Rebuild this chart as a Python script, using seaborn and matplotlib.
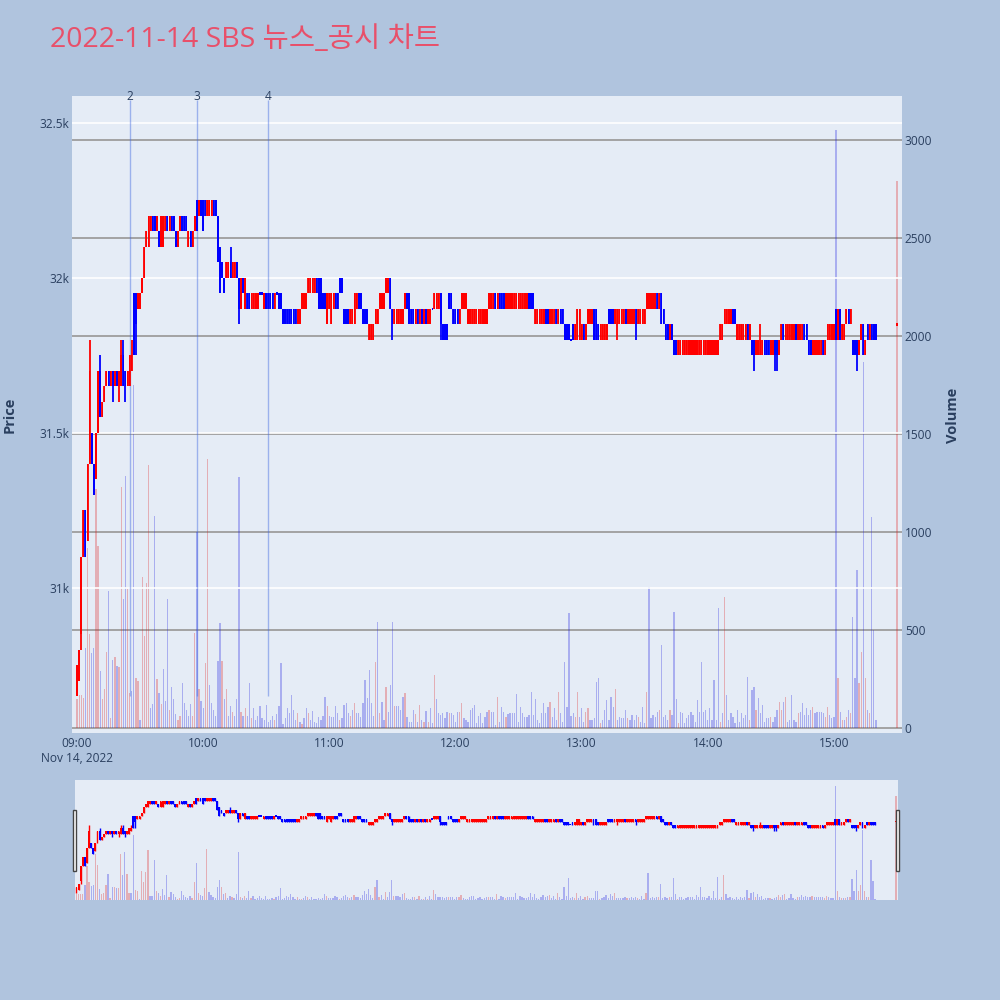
import numpy as np
import pandas as pd
import matplotlib
matplotlib.use("Agg")
import matplotlib.pyplot as plt
from matplotlib.patches import Rectangle
import seaborn as sns

# 2022-11-14 SBS 1분봉 (가격은 31,000원 기준 50원 호가 단위)
BASE = 31000
TICK = 50

# 09:00 ~ 15:20 (381개) + 15:30 종가 단일가
minutes = list(range(381)) + [390]

open_t = [
    -7, -6, -3, 2, 5, 3, 8, 10, 8, 7, 10, 14, 11, 12, 13, 14, 13, 14, 13, 14,
    13, 13, 15, 14, 13, 13, 14, 19, 19, 18, 18, 19, 20, 22, 22, 23, 24, 24, 23, 23,
    22, 22, 23, 24, 23, 24, 24, 23, 22, 23, 24, 24, 24, 22, 23, 22, 23, 25, 24, 25,
    25, 25, 24, 24, 24, 25, 25, 24, 22, 21, 20, 20, 20, 21, 20, 20, 21, 20, 18, 20,
    18, 19, 19, 18, 18, 18, 18, 19, 19, 18, 19, 19, 19, 19, 18, 19, 19, 19, 18, 18,
    18, 18, 18, 18, 18, 17, 17, 18, 18, 18, 19, 19, 19, 19, 20, 20, 20, 19, 19, 17,
    18, 17, 18, 19, 19, 20, 20, 18, 18, 18, 17, 17, 17, 18, 19, 19, 18, 18, 18, 16,
    16, 16, 17, 17, 18, 18, 18, 19, 19, 20, 18, 17, 17, 17, 17, 17, 18, 19, 19, 18,
    18, 17, 18, 17, 18, 17, 18, 17, 17, 18, 18, 18, 18, 19, 17, 17, 17, 19, 19, 18,
    18, 18, 17, 18, 18, 18, 17, 17, 17, 17, 17, 17, 17, 17, 17, 17, 18, 18, 18, 19,
    18, 19, 19, 19, 18, 18, 18, 18, 18, 18, 18, 18, 18, 18, 18, 19, 19, 19, 17, 17,
    17, 17, 17, 18, 18, 17, 17, 17, 18, 17, 18, 18, 17, 17, 17, 16, 17, 16, 16, 16,
    16, 17, 16, 17, 17, 17, 18, 18, 17, 16, 16, 16, 16, 18, 18, 18, 17, 17, 17, 17,
    17, 18, 17, 17, 17, 17, 18, 17, 17, 17, 17, 18, 18, 18, 18, 18, 19, 18, 19, 18,
    17, 17, 16, 17, 16, 16, 15, 15, 15, 15, 15, 15, 15, 15, 15, 15, 15, 15, 15, 15,
    15, 15, 15, 15, 15, 15, 16, 16, 17, 17, 17, 17, 18, 18, 16, 16, 16, 16, 16, 17,
    16, 16, 16, 15, 15, 15, 15, 16, 16, 16, 15, 15, 16, 16, 15, 16, 17, 16, 16, 16,
    16, 16, 17, 16, 16, 16, 17, 17, 16, 16, 15, 15, 15, 15, 15, 16, 15, 16, 16, 16,
    16, 18, 16, 18, 16, 16, 17, 18, 17, 16, 16, 16, 15, 16, 17, 15, 17, 16, 17, 17,
    17, 17,
]
close_t = [
    -5, -4, 2, 5, 2, 8, 14, 8, 6, 10, 14, 11, 12, 13, 14, 13, 14, 13, 14, 13,
    14, 15, 13, 13, 14, 15, 15, 15, 17, 19, 19, 20, 22, 23, 24, 24, 23, 23, 24, 22,
    24, 24, 24, 23, 24, 23, 23, 22, 23, 24, 23, 23, 23, 23, 22, 23, 24, 23, 25, 24,
    23, 24, 25, 25, 25, 24, 24, 21, 19, 20, 19, 21, 21, 20, 21, 21, 20, 18, 20, 19,
    20, 18, 18, 19, 19, 19, 19, 19, 19, 19, 18, 18, 18, 18, 19, 19, 18, 18, 17, 17,
    17, 17, 17, 17, 17, 18, 18, 19, 19, 19, 20, 20, 20, 20, 19, 18, 18, 18, 18, 19,
    19, 19, 19, 18, 18, 19, 19, 17, 17, 17, 18, 18, 19, 19, 18, 18, 17, 17, 17, 17,
    17, 17, 18, 18, 19, 19, 19, 20, 20, 18, 17, 18, 18, 18, 18, 18, 19, 18, 17, 17,
    17, 18, 17, 18, 17, 18, 17, 18, 18, 18, 19, 19, 19, 17, 16, 16, 16, 18, 18, 17,
    17, 17, 18, 19, 19, 19, 18, 18, 18, 18, 18, 18, 18, 18, 18, 18, 19, 19, 19, 18,
    19, 18, 18, 18, 19, 19, 19, 19, 19, 19, 19, 19, 19, 19, 19, 18, 18, 18, 18, 18,
    18, 18, 18, 17, 17, 18, 18, 18, 17, 18, 17, 17, 16, 16, 16, 16, 16, 17, 18, 18,
    17, 16, 17, 18, 18, 18, 16, 16, 16, 17, 17, 17, 17, 17, 17, 17, 18, 18, 18, 18,
    18, 17, 18, 18, 18, 18, 17, 18, 18, 18, 18, 19, 19, 19, 19, 19, 18, 19, 17, 17,
    16, 16, 17, 16, 15, 15, 16, 16, 16, 16, 16, 16, 16, 16, 16, 16, 16, 16, 16, 16,
    16, 16, 16, 16, 16, 16, 17, 17, 18, 18, 18, 18, 17, 17, 17, 17, 17, 17, 17, 16,
    17, 15, 15, 16, 16, 16, 16, 15, 15, 15, 16, 16, 15, 15, 16, 17, 16, 17, 17, 17,
    17, 17, 16, 17, 17, 17, 16, 16, 15, 15, 16, 16, 16, 16, 16, 15, 16, 17, 17, 17,
    17, 16, 18, 16, 17, 17, 18, 17, 18, 15, 15, 15, 16, 17, 15, 16, 16, 17, 16, 16,
    16, 17,
]
# 꼬리 (분: 호가)
high_extra = {6: 16, 11: 15, 21: 16, 22: 16, 26: 16, 73: 22, 325: 17}
low_extra = {0: -7, 2: -4, 8: 6, 17: 12, 20: 12, 23: 12, 28: 15, 77: 17, 150: 16,
             173: 16, 257: 16, 266: 16, 322: 14, 332: 14, 333: 14, 371: 14}

volume = [
    150, 168, 168, 153, 408, 920, 480, 381, 408, 1220,
    930, 290, 150, 200, 390, 700, 50, 345, 360, 315,
    310, 1230, 660, 1283, 708, 180, 190, 1750, 255, 240,
    40, 770, 470, 740, 1340, 100, 120, 1080, 250, 180,
    120, 300, 140, 660, 90, 210, 150, 70, 40, 60,
    230, 130, 90, 60, 120, 60, 485, 1000, 200, 140,
    100, 330, 1372, 220, 130, 90, 60, 340, 535, 340,
    150, 200, 60, 110, 80, 60, 150, 1280, 80, 60,
    100, 60, 230, 50, 100, 40, 60, 110, 50, 40,
    117, 30, 40, 60, 40, 70, 110, 330, 20, 50,
    100, 75, 168, 90, 40, 75, 30, 20, 50, 100,
    75, 40, 85, 30, 25, 58, 40, 60, 160, 110,
    60, 58, 58, 110, 75, 40, 50, 117, 126, 75,
    60, 90, 126, 75, 75, 58, 126, 245, 155, 296,
    126, 60, 337, 540, 75, 135, 40, 210, 80, 220,
    540, 110, 110, 110, 90, 160, 180, 58, 32, 32,
    92, 70, 32, 117, 40, 32, 85, 32, 100, 25,
    270, 150, 75, 67, 75, 50, 83, 78, 78, 67,
    32, 83, 83, 126, 50, 40, 32, 92, 100, 117,
    25, 60, 75, 25, 58, 83, 92, 83, 83, 15,
    160, 32, 109, 83, 58, 70, 75, 75, 75, 175,
    32, 109, 75, 58, 58, 67, 185, 67, 150, 41,
    25, 75, 126, 75, 109, 135, 58, 100, 40, 185,
    75, 32, 338, 109, 585, 60, 75, 58, 185, 58,
    100, 32, 83, 100, 41, 41, 50, 235, 253, 24,
    41, 92, 143, 41, 160, 109, 200, 41, 58, 50,
    50, 92, 50, 41, 67, 41, 67, 58, 32, 109,
    25, 185, 720, 50, 67, 58, 83, 92, 423, 58,
    67, 41, 92, 67, 593, 150, 24, 83, 75, 24,
    50, 67, 83, 67, 32, 143, 83, 338, 83, 92,
    41, 100, 41, 245, 41, 610, 32, 75, 670, 168,
    41, 75, 58, 24, 92, 32, 75, 50, 67, 262,
    41, 194, 211, 92, 151, 75, 117, 32, 50, 50,
    58, 32, 58, 92, 135, 92, 135, 160, 32, 41,
    168, 41, 32, 75, 83, 126, 67, 100, 67, 92,
    109, 75, 83, 83, 83, 75, 58, 109, 67, 50,
    58, 3050, 253, 83, 41, 41, 58, 92, 75, 568,
    253, 806, 228, 390, 1868, 253, 92, 75, 1078, 500, 40,
    2790,
]

# 공시 시점 표시
news_labels = ["2", "3", "4"]
news_minutes = [25, 57, 91]

hour_ticks = [0, 60, 120, 180, 240, 300, 360]
hour_labels = ["09:00", "10:00", "11:00", "12:00", "13:00", "14:00", "15:00"]

title = "2022-11-14 SBS 뉴스_공시 차트"

# ---- 데이터 정리 ----
df = pd.DataFrame({"minute": minutes,
                   "open": BASE + TICK * np.array(open_t),
                   "close": BASE + TICK * np.array(close_t),
                   "volume": volume})
df["high"] = df[["open", "close"]].max(axis=1)
df["low"] = df[["open", "close"]].min(axis=1)
for m, t in high_extra.items():
    df.loc[df["minute"] == m, "high"] = BASE + TICK * t
for m, t in low_extra.items():
    df.loc[df["minute"] == m, "low"] = BASE + TICK * t
prev_close = df["close"].shift(1).fillna(df["open"].iloc[0])
df["up"] = (df["close"] > df["open"]) | ((df["close"] == df["open"]) & (df["close"] > prev_close))
df["vol_dir"] = np.where(df["close"] > prev_close, "up", "down")
df.loc[0, "vol_dir"] = "up"

# ---- 스타일 ----
sns.set_theme(style="white")
plt.rcParams['font.family'] = ['Open Sans', 'Noto Sans CJK KR', 'DejaVu Sans']
FIG_BG = "#B0C4DE"
PLOT_BG = "#E5ECF6"
TXT = "#2a3f5f"
vol_palette = {"up": (1.0, 0.0, 0.0), "down": (0.0, 0.0, 1.0)}


def draw_candles(ax, data, width, wick_lw, min_h):
    cols = np.where(data["up"], "#FF0000", "#0000FF")
    ax.vlines(data["minute"], data["low"], data["high"], colors=cols, lw=wick_lw, zorder=3)
    body_lo = data[["open", "close"]].min(axis=1)
    body_h = np.maximum((data["close"] - data["open"]).abs(), min_h)
    ax.bar(data["minute"], body_h, bottom=body_lo - np.where(body_h == min_h, min_h / 2, 0),
           width=width, color=cols, linewidth=0, zorder=4)


def draw_volume(ax, data, width):
    sns.barplot(data=data, x="minute", y="volume", hue="vol_dir", palette=vol_palette,
                native_scale=True, dodge=False, errorbar=None, legend=False,
                width=width, alpha=0.3, linewidth=0, ax=ax)
    ax.set_xlabel("")
    ax.set_ylabel("")


fig = plt.figure(figsize=(10, 10), dpi=100, facecolor=FIG_BG)

# ---- 메인 차트 ----
ax_v = fig.add_axes([0.072, 0.267, 0.830, 0.637], facecolor=PLOT_BG)
draw_volume(ax_v, df, 0.6)
ax_p = ax_v.twinx()
ax_p.patch.set_visible(False)

ax_v.set_ylim(-25.5, 3224)
ax_v.set_yticks([0, 500, 1000, 1500, 2000, 2500, 3000])
ax_v.set_yticklabels(["0", "500", "1000", "1500", "2000", "2500", "3000"])
ax_v.yaxis.tick_right()
ax_v.grid(axis="y", color="#A3A3A3", lw=1.4)
ax_v.set_axisbelow(True)
ax_v.set_xticks(hour_ticks)
ax_v.set_xticklabels(hour_labels)
ax_v.tick_params(length=0, labelsize=8.6, labelcolor=TXT)
ax_v.tick_params(axis="x", pad=3)
ax_v.tick_params(axis="y", pad=2, left=False, labelleft=False, right=False, labelright=True)

ax_p.yaxis.tick_left()
ax_p.set_ylim(30532, 32587)
ax_p.set_yticks([31000, 31500, 32000, 32500])
ax_p.set_yticklabels(["31k", "31.5k", "32k", "32.5k"])
ax_p.grid(axis="y", color="white", lw=1.2)
ax_p.set_axisbelow(True)
ax_p.tick_params(length=0, labelsize=8.6, labelcolor=TXT, pad=2,
                 right=False, labelright=False, left=False, labelleft=True)
draw_candles(ax_p, df, 0.72, 1.3, 8)

ax_p.vlines(news_minutes, df["low"].min(), 32575, colors="royalblue", lw=1, alpha=0.45, zorder=2)
for m, lab in zip(news_minutes, news_labels):
    ax_p.text(m, 1.0, lab, transform=ax_p.get_xaxis_transform(), ha="center", va="center",
              fontsize=8.6, color=TXT, clip_on=False)

for a in (ax_v, ax_p):
    a.set_xlim(-2.4, 392.4)
    for s in a.spines.values():
        s.set_visible(False)

fig.text(0.077, 0.242, "Nov 14, 2022", ha="center", va="center", fontsize=8.6, color=TXT)
fig.text(0.010, 0.585, "Price", rotation=90, ha="center", va="center",
         fontsize=10.5, fontweight="bold", color=TXT)
fig.text(0.953, 0.585, "Volume", rotation=90, ha="center", va="center",
         fontsize=10.5, fontweight="bold", color=TXT)
fig.text(0.05, 0.96, title, ha="left", va="center", fontsize=20.5, color="#E8506A")

# ---- 레인지 슬라이더 ----
ax_sv = fig.add_axes([0.075, 0.100, 0.823, 0.120], facecolor=PLOT_BG)
draw_volume(ax_sv, df, 0.6)
ax_sv.set_ylim(0, 3210)
ax_sp = ax_sv.twinx()
ax_sp.patch.set_visible(False)
ax_sp.set_ylim(30532, 32553)
draw_candles(ax_sp, df, 0.9, 1.0, 25)
for a in (ax_sv, ax_sp):
    a.set_xlim(-0.7, 390.9)
    a.set_xticks([])
    a.set_yticks([])
    a.grid(False)
    for s in a.spines.values():
        s.set_visible(False)

for hx in (0.0725, 0.8955):
    fig.add_artist(Rectangle((hx, 0.129), 0.0035, 0.061, transform=fig.transFigure,
                             facecolor="white", edgecolor="#444444", lw=1))

fig.savefig("out.png", dpi=100, facecolor=FIG_BG)
